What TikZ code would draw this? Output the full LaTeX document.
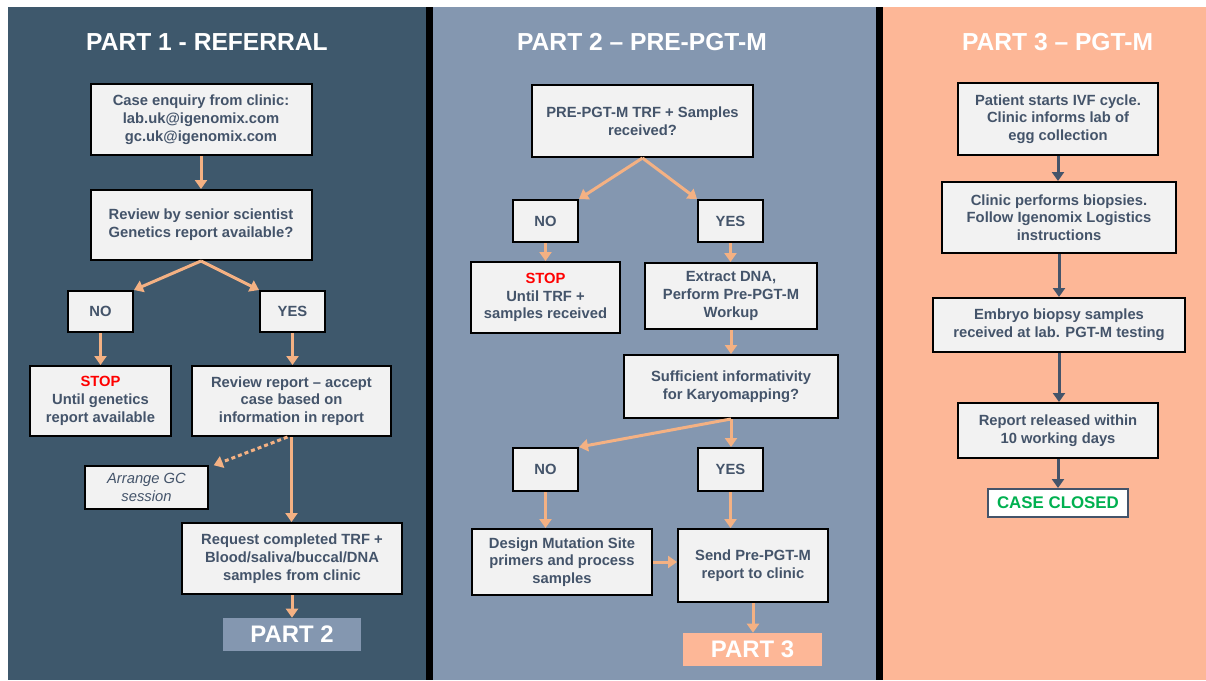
\documentclass[tikz,border=0pt]{standalone}
\usepackage{fontspec}
\setmainfont{Liberation Sans}
\usetikzlibrary{arrows.meta}
\newcommand{\pix}{0.025cm}
\definecolor{partone}{HTML}{3E586C}
\definecolor{parttwo}{HTML}{8497B0}
\definecolor{partthree}{HTML}{FDB797}
\definecolor{boxgrey}{HTML}{F2F2F2}
\definecolor{boxtext}{HTML}{44546A}
\definecolor{salmon}{HTML}{F4B183}
\definecolor{stopred}{HTML}{FF0000}
\definecolor{closedgreen}{HTML}{00B050}

\begin{document}
\begin{tikzpicture}[x=\pix, y=-\pix,
    box/.style={draw=black, line width=2*\pix, fill=boxgrey, text=boxtext, align=center, inner sep=0pt, font=\fontsize{10.5}{12.6}\selectfont\bfseries},
    title/.style={text=white, inner sep=0pt, font=\fontsize{17.5}{20}\selectfont\bfseries},
    tag/.style={text=white, inner sep=0pt, minimum width=138*\pix, minimum height=33*\pix, font=\fontsize{17}{20}\selectfont\bfseries},
    arr/.style={draw=salmon, line width=3*\pix, -{Triangle[width=12*\pix,length=9*\pix]}},
    darr/.style={arr, draw=boxtext},
    dotarr/.style={arr, dash pattern=on 4*\pix off 3*\pix}]
    \useasboundingbox (0,0) rectangle (1206,680);

    % Panels
    \fill[partone] (8,7) rectangle (426,680);
    \fill[black] (426,7) rectangle (433,680);
    \fill[parttwo] (433,7) rectangle (876,680);
    \fill[black] (876,7) rectangle (883,680);
    \fill[partthree] (883,7) rectangle (1206,680);

    % Part 1
    \node[title] (title-1) at (207,42.5) {PART 1 - REFERRAL};
    \node[box, minimum width=221*\pix, minimum height=71*\pix] (box-1-1) at (201,119.5) {Case enquiry from clinic:\\lab.uk@igenomix.com\\gc.uk@igenomix.com};
    \node[box, minimum width=221*\pix, minimum height=70*\pix] (box-1-2) at (201,225) {Review by senior scientist\\Genetics report available?};
    \node[box, minimum width=65*\pix, minimum height=41*\pix] (no-1) at (100.5,311.5) {NO};
    \node[box, minimum width=65*\pix, minimum height=41*\pix] (yes-1) at (292.5,311.5) {YES};
    \node[box, minimum width=141*\pix, minimum height=70*\pix] (box-1-3) at (100.5,401) {\textcolor{stopred}{STOP}\\Until genetics\\report available};
    \node[box, minimum width=199*\pix, minimum height=70*\pix] (box-1-4) at (291.5,401) {Review report – accept\\case based on\\information in report};
    \node[box, line width=1.5*\pix, minimum width=123*\pix, minimum height=43*\pix, font=\fontsize{10.5}{12.6}\selectfont\itshape] (gc-1) at (146.5,487.5) {Arrange GC\\session};
    \node[box, minimum width=220*\pix, minimum height=71*\pix] (box-1-5) at (292,558.5) {Request completed TRF +\\Blood/saliva/buccal/DNA\\samples from clinic};
    \node[tag, fill=parttwo] (tag-1) at (292,634.5) {PART 2};

    \draw[arr] (box-1-1.south) -- (box-1-2.north);
    \draw[arr] (box-1-2.south) -- (no-1.north east);
    \draw[arr] (box-1-2.south) -- (yes-1.north west);
    \draw[arr] (no-1.south) -- (no-1.south |- box-1-3.north);
    \draw[arr] (yes-1.south) -- (yes-1.south |- box-1-4.north);
    \draw[dotarr] ([xshift=-4*\pix]box-1-4.south) -- ([xshift=5*\pix]gc-1.north east);
    \draw[arr] (box-1-4.south) -- (box-1-4.south |- box-1-5.north);
    \draw[arr] (box-1-5.south) -- (tag-1.north);

    % Part 2
    \node[title] (title-2) at (642,42.5) {PART 2 – PRE-PGT-M};
    \node[box, minimum width=221*\pix, minimum height=72*\pix] (box-2-1) at (642.5,121) {PRE-PGT-M TRF + Samples\\received?};
    \node[box, minimum width=65*\pix, minimum height=42*\pix] (no-2) at (545.5,221) {NO};
    \node[box, minimum width=65*\pix, minimum height=42*\pix] (yes-2) at (730.5,221) {YES};
    \node[box, minimum width=149*\pix, minimum height=71*\pix] (box-2-2) at (545.5,297.5) {\textcolor{stopred}{STOP}\\Until TRF +\\samples received};
    \node[box, minimum width=172*\pix, minimum height=66*\pix] (box-2-3) at (731,296) {Extract DNA,\\Perform Pre-PGT-M\\Workup};
    \node[box, minimum width=214*\pix, minimum height=63*\pix] (box-2-4) at (731,386.5) {Sufficient informativity\\for Karyomapping?};
    \node[box, minimum width=65*\pix, minimum height=43*\pix] (no-3) at (545.5,469.5) {NO};
    \node[box, minimum width=65*\pix, minimum height=43*\pix] (yes-3) at (730.5,469.5) {YES};
    \node[box, minimum width=180*\pix, minimum height=66*\pix] (box-2-5) at (562,562) {Design Mutation Site\\primers and process\\samples};
    \node[box, minimum width=150*\pix, minimum height=73*\pix] (box-2-6) at (753,565.5) {Send Pre-PGT-M\\report to clinic};
    \node[tag, fill=partthree, minimum width=139*\pix] (tag-2) at (752.5,649.5) {PART 3};

    \draw[arr] (box-2-1.south) -- (no-2.north east);
    \draw[arr] (box-2-1.south) -- (yes-2.north west);
    \draw[arr] (no-2.south) -- (no-2.south |- box-2-2.north);
    \draw[arr] (yes-2.south) -- (yes-2.south |- box-2-3.north);
    \draw[arr] (box-2-3.south) -- (box-2-4.north);
    \draw[arr] (box-2-4.south) -- (no-3.north east);
    \draw[arr] (box-2-4.south) -- (box-2-4.south |- yes-3.north);
    \draw[arr] (no-3.south) -- (no-3.south |- box-2-5.north);
    \draw[arr] (yes-3.south) -- (yes-3.south |- box-2-6.north);
    \draw[arr] (box-2-5.east) -- (box-2-5.east -| box-2-6.west);
    \draw[arr] (box-2-6.south) -- (box-2-6.south |- tag-2.north);

    % Part 3
    \node[title] (title-3) at (1057.5,42.5) {PART 3 – PGT-M};
    \node[box, minimum width=200*\pix, minimum height=72*\pix] (box-3-1) at (1058,119) {Patient starts IVF cycle.\\Clinic informs lab of\\egg collection};
    \node[box, minimum width=234*\pix, minimum height=71*\pix] (box-3-2) at (1059,217.5) {Clinic performs biopsies.\\Follow Igenomix Logistics\\instructions};
    \node[box, minimum width=252*\pix, minimum height=54*\pix] (box-3-3) at (1059,325) {Embryo biopsy samples\\received at lab. PGT-M testing};
    \node[box, minimum width=200*\pix, minimum height=55*\pix] (box-3-4) at (1058,430.5) {Report released within\\10 working days};
    \node[box, draw=boxtext, fill=white, text=closedgreen, minimum width=140*\pix, minimum height=28*\pix, font=\fontsize{12}{14}\selectfont\bfseries] (closed) at (1058,503) {CASE CLOSED};

    \draw[darr] (box-3-1.south) -- (box-3-1.south |- box-3-2.north);
    \draw[darr] (box-3-2.south) -- (box-3-3.north);
    \draw[darr] (box-3-3.south) -- (box-3-3.south |- box-3-4.north);
    \draw[darr] (box-3-4.south) -- (closed.north);

\end{tikzpicture}
\end{document}
